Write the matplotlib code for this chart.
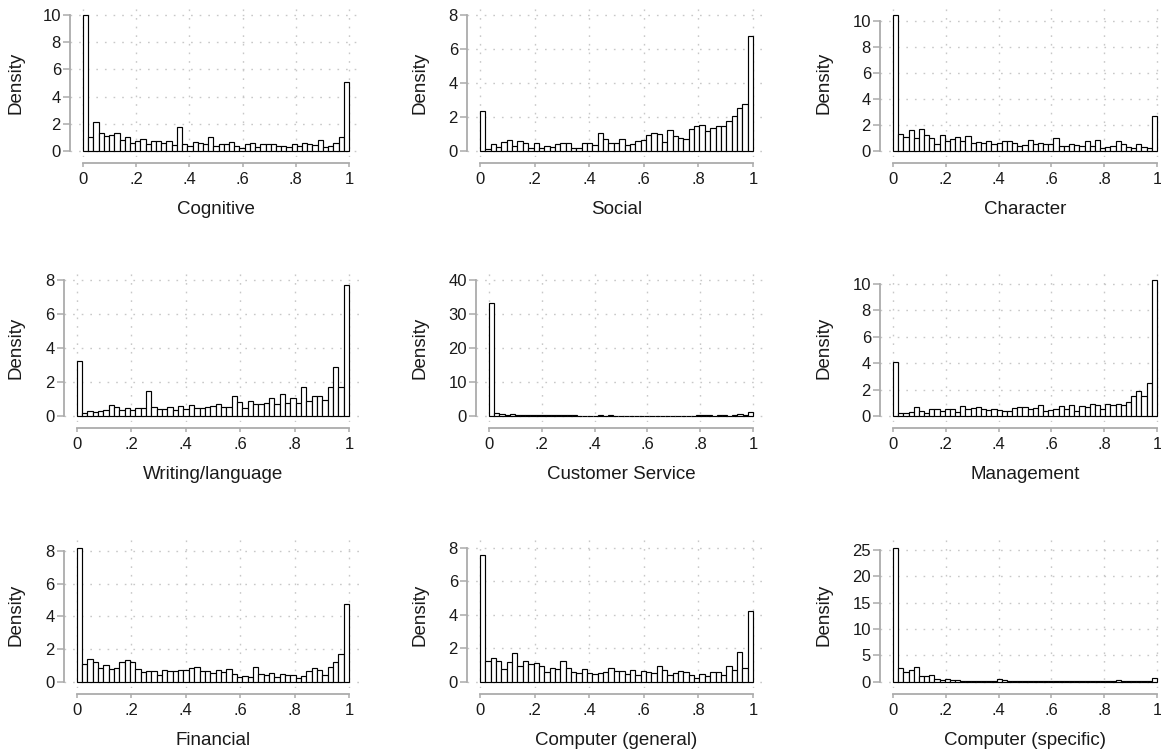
import numpy as np
import matplotlib
matplotlib.use("Agg")
import matplotlib.pyplot as plt

plt.rcParams['font.family'] = ['Liberation Sans', 'DejaVu Sans']

NBINS = 51

titles = ["Cognitive", "Social", "Character",
          "Writing/language", "Customer Service", "Management",
          "Financial", "Computer (general)", "Computer (specific)"]

cognitive = [10.0, 1.0, 2.1, 1.3, 1.1, 1.15, 1.3, 0.8, 1.05, 0.6,
             0.7, 0.85, 0.5, 0.7, 0.75, 0.6, 0.7, 0.45, 1.8, 0.55,
             0.35, 0.65, 0.6, 0.55, 1.0, 0.35, 0.5, 0.5, 0.65, 0.4,
             0.25, 0.5, 0.6, 0.3, 0.55, 0.5, 0.5, 0.4, 0.4, 0.3,
             0.55, 0.35, 0.6, 0.5, 0.45, 0.8, 0.3, 0.4, 0.6, 1.05,
             5.05]
social = [2.35, 0.1, 0.4, 0.25, 0.55, 0.65, 0.3, 0.6, 0.45, 0.15,
          0.5, 0.15, 0.3, 0.25, 0.4, 0.45, 0.5, 0.2, 0.15, 0.45,
          0.45, 0.35, 1.05, 0.7, 0.45, 0.45, 0.7, 0.35, 0.4, 0.6,
          0.65, 0.95, 1.05, 1.0, 0.55, 1.25, 0.9, 0.75, 0.7, 1.3,
          1.45, 1.55, 1.2, 1.35, 1.5, 1.5, 1.75, 2.05, 2.55, 2.75,
          6.75]
character = [10.45, 1.3, 1.05, 1.6, 1.0, 1.7, 1.2, 1.0, 0.55, 1.2,
             0.75, 0.9, 1.1, 0.75, 1.15, 0.6, 0.7, 0.6, 0.8, 0.5,
             0.6, 0.8, 0.8, 0.65, 0.4, 0.45, 0.85, 0.5, 0.65, 0.5,
             0.5, 1.0, 0.35, 0.35, 0.5, 0.45, 0.4, 0.8, 0.35, 0.85,
             0.2, 0.3, 0.4, 0.8, 0.5, 0.3, 0.25, 0.55, 0.3, 0.25,
             2.7]
writing = [3.25, 0.2, 0.3, 0.25, 0.3, 0.35, 0.65, 0.55, 0.35, 0.45,
           0.35, 0.45, 0.45, 1.45, 0.5, 0.4, 0.4, 0.5, 0.35, 0.6,
           0.4, 0.65, 0.45, 0.45, 0.55, 0.6, 0.7, 0.5, 0.5, 1.2,
           0.8, 0.45, 0.9, 0.7, 0.7, 0.75, 1.05, 0.7, 1.3, 0.75,
           1.05, 0.75, 1.7, 0.9, 1.15, 1.15, 0.95, 1.7, 2.9, 1.7,
           7.7]
customer = [33.2, 0.9, 0.5, 0.4, 0.6, 0.25, 0.25, 0.2, 0.25, 0.2,
            0.15, 0.15, 0.2, 0.15, 0.2, 0.3, 0.15, 0.1, 0.1, 0.1,
            0.1, 0.15, 0.1, 0.25, 0.1, 0.1, 0.1, 0.1, 0.1, 0.1,
            0.1, 0.1, 0.1, 0.1, 0.1, 0.1, 0.05, 0.05, 0.1, 0.1,
            0.15, 0.15, 0.2, 0.1, 0.2, 0.15, 0.1, 0.15, 0.5, 0.2,
            1.1]
management = [4.1, 0.2, 0.2, 0.3, 0.7, 0.4, 0.2, 0.5, 0.55, 0.4,
              0.55, 0.55, 0.3, 0.75, 0.5, 0.6, 0.7, 0.5, 0.45, 0.55,
              0.45, 0.35, 0.4, 0.6, 0.7, 0.7, 0.5, 0.6, 0.85, 0.35,
              0.45, 0.55, 0.75, 0.55, 0.85, 0.4, 0.75, 0.7, 0.9, 0.85,
              0.55, 0.9, 0.8, 0.9, 0.85, 1.05, 1.5, 1.9, 1.55, 2.5,
              10.3]
financial = [8.2, 1.1, 1.4, 1.2, 0.85, 1.0, 0.75, 0.8, 1.2, 1.3,
             1.2, 0.75, 0.6, 0.65, 0.65, 0.4, 0.7, 0.65, 0.65, 0.7,
             0.7, 0.8, 0.9, 0.65, 0.65, 0.5, 0.7, 0.6, 0.75, 0.45,
             0.25, 0.35, 0.25, 0.9, 0.45, 0.4, 0.55, 0.3, 0.45, 0.4,
             0.4, 0.2, 0.35, 0.65, 0.8, 0.7, 0.4, 0.9, 1.2, 1.7,
             4.75]
comp_general = [7.6, 1.2, 1.4, 1.2, 0.75, 1.15, 1.7, 0.95, 1.2, 1.05,
                1.1, 0.95, 0.55, 0.8, 0.75, 1.25, 0.8, 0.55, 0.5, 0.75,
                0.5, 0.45, 0.5, 0.55, 0.8, 0.6, 0.6, 0.45, 0.7, 0.4,
                0.65, 0.55, 0.5, 0.95, 0.7, 0.4, 0.5, 0.6, 0.55, 0.4,
                0.2, 0.45, 0.35, 0.55, 0.55, 0.4, 0.9, 0.7, 1.75, 0.8,
                4.2]
comp_specific = [25.4, 2.5, 1.9, 2.2, 2.8, 1.1, 1.0, 1.3, 0.5, 0.35,
                 0.5, 0.25, 0.2, 0.15, 0.15, 0.1, 0.1, 0.15, 0.1, 0.1,
                 0.55, 0.2, 0.1, 0.1, 0.1, 0.05, 0.05, 0.05, 0.05, 0.05,
                 0.05, 0.05, 0.05, 0.05, 0.1, 0.05, 0.05, 0.05, 0.05, 0.05,
                 0.05, 0.05, 0.05, 0.2, 0.1, 0.05, 0.1, 0.05, 0.05, 0.05,
                 0.75]

series = [cognitive, social, character, writing, customer, management,
          financial, comp_general, comp_specific]

yticks_list = [[0, 2, 4, 6, 8, 10], [0, 2, 4, 6, 8], [0, 2, 4, 6, 8, 10],
               [0, 2, 4, 6, 8], [0, 10, 20, 30, 40], [0, 2, 4, 6, 8, 10],
               [0, 2, 4, 6, 8], [0, 2, 4, 6, 8], [0, 5, 10, 15, 20, 25]]

xtick_vals = [0, 0.2, 0.4, 0.6, 0.8, 1.0]
xtick_labels = ["0", ".2", ".4", ".6", ".8", "1"]

# layout (pixels)
W, H = 1161, 753
row_zero = [151, 416, 681.5]
row_top = [15, 280, 548]
x0_px = [[83, 480, 893], [76.7, 489, 893], [76.7, 480, 893]]
x1_px = [349, 753, 1157]
ylab_x = [16, 420, 824]

fig = plt.figure(figsize=(W / 100, H / 100), dpi=100)

spine_col = '#ababab'
grid_col = '#c8c8c8'
edges = np.linspace(0, 1, NBINS + 1)
lefts = edges[:-1]
bw = edges[1] - edges[0]

for i, (vals, title, yt) in enumerate(zip(series, titles, yticks_list)):
    r, c = divmod(i, 3)
    x0 = x0_px[r][c]
    x1 = x1_px[c]
    zero = row_zero[r]
    top = row_top[r]
    lm, rm, tm, bm = 13, 10, 12, 6
    ax_l = x0 - lm
    ax_r = min(x1 + rm, W)
    ax_t = top - tm
    ax_b = zero + bm
    ax = fig.add_axes([ax_l / W, 1 - ax_b / H, (ax_r - ax_l) / W, (ax_b - ax_t) / H])
    xs = x1 - x0
    T = max(yt[-1], max(vals))
    hs = zero - top
    ax.set_xlim(-lm / xs, 1 + (ax_r - x1) / xs)
    ax.set_ylim(-bm / hs * T, T + tm / hs * T)

    ax.bar(lefts, vals, width=bw, align='edge', facecolor='white',
           edgecolor='black', linewidth=0.85, zorder=3)

    ax.set_xticks(xtick_vals)
    ax.set_xticklabels(xtick_labels)
    ax.set_yticks(yt)
    ax.set_yticklabels([str(v) for v in yt])
    ax.grid(True, color=grid_col, linestyle=(0, (1.2, 5)), linewidth=1.0, zorder=0)

    for s in ['top', 'right']:
        ax.spines[s].set_visible(False)
    ax.spines['left'].set_color(spine_col)
    ax.spines['bottom'].set_color(spine_col)
    ax.spines['left'].set_linewidth(1.3)
    ax.spines['bottom'].set_linewidth(1.3)
    ax.spines['left'].set_bounds(yt[0], yt[-1])
    ax.spines['bottom'].set_bounds(0, 1)
    ax.spines['bottom'].set_position(('outward', 6 * 72 / 100))
    ax.tick_params(axis='x', colors=spine_col, labelcolor='#1a1a1a', length=3,
                   width=1.1, pad=3.5, labelsize=12)
    ax.tick_params(axis='y', colors=spine_col, labelcolor='#1a1a1a', length=5,
                   width=1.1, pad=1.5, labelsize=12)

    ax.set_ylabel("Density", fontsize=13.5, color='#1a1a1a')
    ax.yaxis.set_label_coords((ylab_x[c] - ax_l) / (ax_r - ax_l),
                              (ax_b - (zero + top) / 2) / (ax_b - ax_t))
    ax.yaxis.label.set_va('center')
    ax.set_xlabel(title, fontsize=13.5, color='#1a1a1a')
    ax.xaxis.set_label_coords(((x0 + x1) / 2 - ax_l) / (ax_r - ax_l),
                              (ax_b - (zero + 59)) / (ax_b - ax_t))
    ax.xaxis.label.set_va('center')
    ax.set_facecolor('none')

fig.savefig("out.png", dpi=100, facecolor='white')
